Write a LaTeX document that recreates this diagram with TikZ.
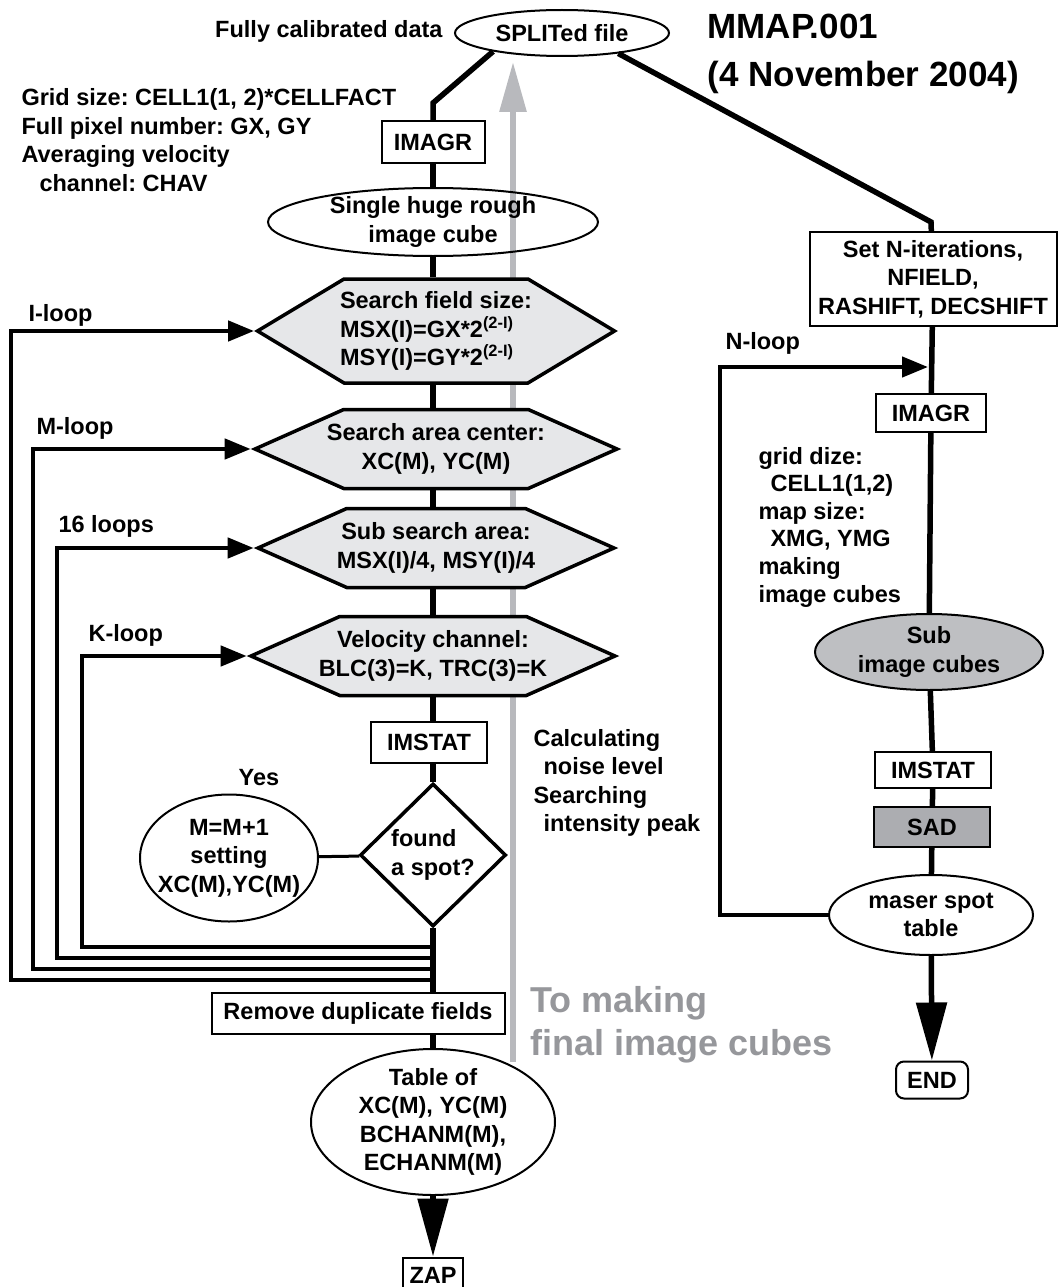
\documentclass[tikz,border=0pt]{standalone}
\usepackage{fontspec}
\setmainfont{Liberation Sans}
\usetikzlibrary{shapes.geometric, shapes.symbols, arrows.meta}
\definecolor{hexgray}{RGB}{230,231,233}
\definecolor{cubegray}{RGB}{190,191,194}
\definecolor{sadgray}{RGB}{172,173,177}
\definecolor{arrowgray}{RGB}{184,185,189}
\definecolor{textgray}{RGB}{150,151,155}
\frenchspacing

\begin{document}
\begin{tikzpicture}[x=1pt, y=-1pt,
  every node/.style = {font=\fontsize{23.5}{28.5}\selectfont\bfseries},
  box/.style = {draw, line width=2pt, inner sep=0pt, minimum height=40pt, align=center},
  oval/.style = {draw, ellipse, line width=2pt, inner sep=-12pt, align=center},
  hexa/.style = {draw, signal, signal to=west and east, fill=hexgray, line width=3.5pt,
                 inner xsep=-60pt, inner ysep=0pt, minimum height=79pt, signal pointer angle=48, align=center},
  flow/.style = {line width=5.5pt},
  loopline/.style = {line width=4.5pt, -{Triangle[length=26pt,width=20pt]}},
  bigarrow/.style = {line width=5.5pt, -{Triangle[length=58pt,width=30pt]}}]
\useasboundingbox (0,0) rectangle (1060,1287);

\coordinate (g1) at (513,1062);
\coordinate (g2) at (513,62);
\draw[line width=6pt, arrowgray, -{Triangle[length=50pt,width=26pt]}] (g1) -- (g2);

\node[oval, minimum width=214pt, minimum height=46pt] (split) at (562,33) {SPLITed file};
\node[anchor=east] (calib) at (446,31) {Fully calibrated data};
\node[anchor=west, align=left, font=\fontsize{35}{48}\selectfont\bfseries] (title) at (704,54) {MMAP.001\\(4 November 2004)};
\node[anchor=west, align=left] (grid) at (18,140) {Grid size: CELL1(1, 2)*CELLFACT\\Full pixel number: GX, GY\\Averaging velocity\\\hspace*{18pt}channel: CHAV};

\coordinate (b1) at (433,103);
\node[box, minimum width=103pt, minimum height=42pt] (imagr1) at (433,142) {IMAGR};
\node[oval, minimum width=330pt, minimum height=68pt] (rough) at (433,222) {Single huge rough\\image cube};
\node[hexa, minimum width=357pt, minimum height=104pt, signal pointer angle=62, align=left] (h1) at (436,331) {Search field size:\\MSX(I)=GX*2\textsuperscript{(2-I)}\\MSY(I)=GY*2\textsuperscript{(2-I)}};
\node[hexa, minimum width=362pt] (h2) at (436,449) {Search area center:\\XC(M), YC(M)};
\node[hexa, minimum width=356pt] (h3) at (436,548) {Sub search area:\\MSX(I)/4, MSY(I)/4};
\node[hexa, minimum width=364pt] (h4) at (433,656) {Velocity channel:\\BLC(3)=K, TRC(3)=K};
\node[box, minimum width=116pt, minimum height=41pt] (imstat1) at (429,742) {IMSTAT};
\node[diamond, draw, line width=3.5pt, inner sep=0pt, minimum width=146pt, minimum height=143pt, align=left] (spot) at (433,855) {found\\a spot?};
\node[oval, minimum width=178pt, minimum height=127pt] (mset) at (229,858) {M=M+1\\setting\\XC(M),YC(M)};
\node (yes) at (259,778) {Yes};
\node[anchor=west, align=left] (calc) at (530,783) {Calculating\\\hspace*{10pt}noise level\\Searching\\\hspace*{10pt}intensity peak};

\node[anchor=west] (iloop) at (25,315) {I-loop};
\node[anchor=west] (mloop) at (33,428) {M-loop};
\node[anchor=west] (sloop) at (55,526) {16 loops};
\node[anchor=west] (kloop) at (85,635) {K-loop};

\node[box, minimum width=293pt, minimum height=41pt] (remove) at (358,1013) {Remove duplicate fields};
\node[oval, minimum width=244pt, minimum height=146pt] (table) at (433,1122) {Table of\\XC(M), YC(M)\\BCHANM(M),\\ECHANM(M)};
\node[box, minimum width=60pt, minimum height=35pt] (zap) at (433,1275) {ZAP};
\node[anchor=west, align=left, text=textgray, font=\fontsize{36}{43}\selectfont\bfseries] (final) at (527,1025) {To making\\final image cubes};

\coordinate (b2) at (931,222);
\node[box, minimum width=247pt, minimum height=94pt] (setn) at (933,279) {Set N-iterations,\\NFIELD,\\RASHIFT, DECSHIFT};
\node[anchor=west] (nloop) at (722,343) {N-loop};
\node[box, minimum width=110pt, minimum height=38pt] (imagr2) at (931,413) {IMAGR};
\node[anchor=west, align=left, font=\fontsize{23.5}{27.6}\selectfont\bfseries] (gridr) at (755,527) {grid dize:\\\hspace*{12pt}CELL1(1,2)\\map size:\\\hspace*{12pt}XMG, YMG\\making\\image cubes};
\node[oval, fill=cubegray, minimum width=228pt, minimum height=76pt] (sub) at (929,652) {Sub\\image cubes};
\node[box, minimum width=116pt, minimum height=36pt] (imstat2) at (933,770) {IMSTAT};
\node[box, fill=sadgray, minimum width=116pt, minimum height=40pt] (sad) at (932,827) {SAD};
\node[oval, minimum width=204pt, minimum height=80pt] (maser) at (931,915) {maser spot\\table};
\node[box, rounded corners=8pt, minimum width=72pt, minimum height=37pt] (end) at (932,1080) {END};
\coordinate (n1) at (720,915);
\coordinate (n2) at (928,367);

\draw[flow] (split.195) -- (b1) -- (imagr1);
\draw[flow] (imagr1) -- (rough);
\draw[flow] (rough.south) -- (rough.south |- h1.north);
\draw[flow] (rough.south |- h1.south) -- (rough.south |- h2.north);
\draw[flow] (rough.south |- h2.south) -- (rough.south |- h3.north);
\draw[flow] (rough.south |- h3.south) -- (h4.north);
\draw[flow] (h4.south) -- (h4.south |- imstat1.north);
\draw[flow] (h4.south |- imstat1.south) -- (spot.north);
\draw[flow] (spot.south) -- (spot.south |- remove.north);
\draw[line width=3pt] (mset) -- (spot);
\draw[flow] (table.north |- remove.south) -- (table.north);
\draw[bigarrow] (table) -- (zap);

\foreach \h/\x/\y in {h4/82/947, h3/57/958, h2/33/969, h1/11/980} {
  \coordinate (s\h) at (433,\y);
  \draw[loopline] (s\h) -- (\x,\y) |- (\h.west);
}

\draw[flow] (split.-20) -- (b2) -- (setn);
\draw[flow] (setn) -- (imagr2);
\draw[flow] (imagr2) -- (sub);
\draw[flow] (sub) -- (imstat2);
\draw[flow] (imstat2) -- (sad);
\draw[flow] (sad) -- (maser);
\draw[bigarrow] (maser) -- (end);
\draw[loopline] (maser) -- (n1) |- (n2);
\end{tikzpicture}
\end{document}
